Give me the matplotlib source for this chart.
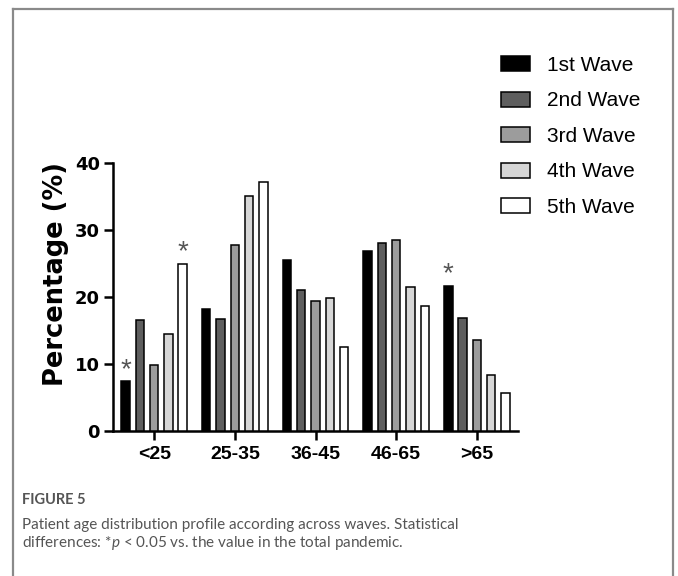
import matplotlib
matplotlib.use("Agg")
import matplotlib.pyplot as plt
import numpy as np
from matplotlib.lines import Line2D

categories = ["<25", "25-35", "36-45", "46-65", ">65"]
series_names = ["1st Wave", "2nd Wave", "3rd Wave", "4th Wave", "5th Wave"]
wave1 = [7.4, 18.2, 25.5, 26.8, 21.6]
wave2 = [16.6, 16.7, 21.1, 28.0, 16.8]
wave3 = [9.9, 27.8, 19.4, 28.5, 13.6]
wave4 = [14.5, 35.1, 19.9, 21.5, 8.4]
wave5 = [24.9, 37.2, 12.6, 18.7, 5.7]
series = [wave1, wave2, wave3, wave4, wave5]
colors = ["#000000", "#5e5e5e", "#9c9c9c", "#d6d6d6", "#ffffff"]
# significant marks: (series index, category index)
stars = [(0, 0), (4, 0), (0, 4)]
yticks = [0, 10, 20, 30, 40]

plt.rcParams['mathtext.fontset'] = 'custom'
plt.rcParams['mathtext.rm'] = 'Lato'
plt.rcParams['mathtext.it'] = 'Lato:italic'

fig = plt.figure(figsize=(6.78, 5.76), dpi=100)
ax = fig.add_axes([113/678, 1-431/576, (518-113)/678, (431-163)/576])

x = np.arange(len(categories))
pitch = 0.177
width = 0.105
bars = []
for i, (vals, col, name) in enumerate(zip(series, colors, series_names)):
    b = ax.bar(x + (i-2)*pitch, vals, width=width, color=col, edgecolor="black",
               linewidth=1.1, label=name, zorder=3)
    bars.append(b)

for si, ci in stars:
    rect = bars[si][ci]
    ax.annotate("*", (rect.get_x()+rect.get_width()/2, rect.get_height()),
                xytext=(0, -1), textcoords="offset points", ha="center", va="bottom",
                fontsize=20, color="#555555", family="Liberation Sans")

ax.set_xlim(-0.51, 4.51)
ax.set_ylim(0, 40)
ax.set_yticks(yticks)
ax.set_xticks(x)
ax.set_xticklabels(categories, fontsize=14, fontweight="bold", family="Liberation Sans")
for lab in ax.get_yticklabels():
    lab.set_fontsize(13)
    lab.set_fontweight("bold")
    lab.set_family("DejaVu Sans")
ax.set_ylabel("Percentage (%)", fontsize=18.5, fontweight="bold", family="DejaVu Sans")
ax.yaxis.set_label_coords(-0.108, 0.585)

for s in ["top", "right"]:
    ax.spines[s].set_visible(False)
for s in ["left", "bottom"]:
    ax.spines[s].set_linewidth(1.8)
ax.tick_params(axis="both", width=1.8, length=6.5, direction="out")
ax.tick_params(axis="y", pad=3)
ax.tick_params(axis="x", pad=4)

leg = ax.legend(loc="upper left", bbox_to_anchor=(501/678, 1-56/576),
                bbox_transform=fig.transFigure, frameon=False,
                prop={"family": "Liberation Sans", "size": 15},
                handlelength=1.4, handleheight=0.72, handletextpad=0.8,
                labelspacing=0.79, borderpad=0, borderaxespad=0)

# caption
fig.text(22/678, 1-504/576, "FIGURE 5", fontsize=10.5, fontweight="bold",
         color="#555555", family="Lato", va="baseline")
fig.text(22/678, 1-529/576,
         "Patient age distribution profile according across waves. Statistical",
         fontsize=11, color="#555555", family="Lato", va="baseline")
fig.text(22/678, 1-547/576,
         r"differences: *$p$ < 0.05 vs. the value in the total pandemic.",
         fontsize=11, color="#555555", family="Lato", va="baseline")

# frame
fc = "#8a8a8a"
fig.add_artist(Line2D([13/678, 13/678], [0, 1-9/576], transform=fig.transFigure, color=fc, lw=1.6))
fig.add_artist(Line2D([13/678, 673/678], [1-9/576, 1-9/576], transform=fig.transFigure, color=fc, lw=1.6))
fig.add_artist(Line2D([673/678, 673/678], [0, 1-9/576], transform=fig.transFigure, color=fc, lw=1.6))

fig.savefig("out.png", dpi=100)
